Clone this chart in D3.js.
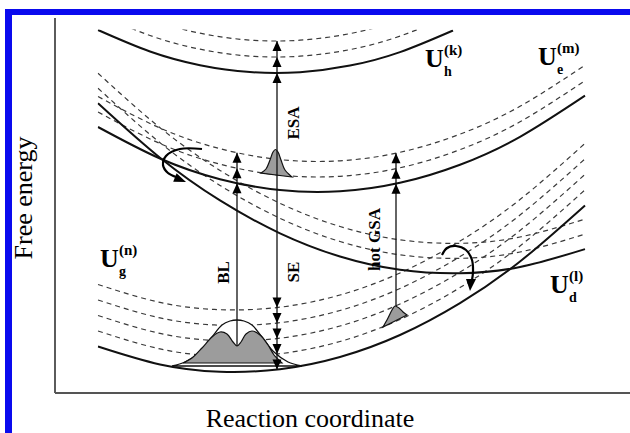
<!DOCTYPE html>
<html>
<head>
<meta charset="utf-8">
<script src="https://cdn.jsdelivr.net/npm/d3@7"></script>
<style>
  body { margin: 0; background: #fff; }
  svg { display: block; }
</style>
</head>
<body>
<svg id="chart" width="630" height="433"></svg>
<script>
//	potential curves, sampled along the reaction coordinate (q) as free energy (E)
var qGrid    = [43, 105, 165, 225, 285, 345, 405, 465, 530];
var groundE  = [46.5, 28.6, 21.3, 23.8, 36.0, 58.0, 89.9, 131.5, 187.6];
var excitedE = [266.0, 234.5, 213.8, 202.9, 201.7, 210.2, 228.3, 256.2, 297.4];
var darkE    = [289.8, 235.3, 192.6, 159.7, 136.5, 123.2, 119.7, 126.0, 143.9];
var qHigh    = [43, 95, 145, 195, 245, 295, 345, 398];
var highE    = [363, 341.5, 327.8, 320.9, 320.8, 327.4, 340.9, 362.5];

//	vibrational levels (energy above each curve), drawn dashed
var groundLevels  = [15.5, 31, 46.5, 62];
var excitedLevels = [15, 30.5];
var darkLevels    = [15, 30];
var highLevels    = [16, 32];

//	curve labels U_sub^(sup)
var curveSub = ["g", "e", "d", "h"];
var curveSup = ["(n)", "(m)", "(l)", "(k)"];
var labelQ   = [45, 483, 495, 370];
var labelE   = [126, 328, 100, 326];

//	populations (wavepackets)
var bellOutline = [[117,27],[130,31],[145,41],[157,56],[167,68],[175,72],[182,73],[189,72],[197,68],[207,56],[219,41],[233,31],[247,27]];
var groundPop   = [[128,30],[137,35],[147,45],[157,56],[165,61],[172,59],[178,51],[182,47],[186,51],[191,59],[197,62],[205,58],[213,48],[219,38],[224,33],[227,30]];
var excitedPop  = [[206,220],[211,224],[215,233],[218,241],[220.5,243.5],[223,241],[226,233],[230,223],[237,216]];
var hotPop      = [[328,66],[333,75],[337,83],[340,87],[344,85],[348,81],[352,78]];

//	vertical transitions
var arrowQ      = [222, 182, 341];
var arrowTop    = [352, 240.3, 239.8];
var arrowBottom = [23.4, 47, 87];
var upTips      = [[320, 336, 352], [209.8, 224.8, 240.3], [209.3, 224.3, 239.8]];
var downTips    = [[23.4, 38.9, 54.4, 69.9, 85.4], [], []];
var arrowLabels = ["ESA", "SE", "BL", "hot GSA"];
var arrowLabelQ = [244, 244, 174, 325];
var arrowLabelE = [270, 121, 120.5, 153.5];

//	curved arrows (relaxation / crossing)
var crossArrowL = [[147,244],[125,244],[111,237],[108,228],[113,220],[121,216]];
var crossArrowR = [[387,138],[392,145],[401,147],[411,143],[417,133],[418,121],[417,113]];

var svg = d3.select("#chart"),
    width = 630,
    height = 433,
    serif = "'Liberation Serif', 'Times New Roman', serif";

var x = d3.scaleLinear().domain([0, 575]).range([55, 630]),
    y = d3.scaleLinear().domain([0, 376]).range([393, 17]);

var line = d3.line()
    .x(function(d) { return x(d[0]); })
    .y(function(d) { return y(d[1]); })
    .curve(d3.curveNatural);

var closedLine = d3.line()
    .x(function(d) { return x(d[0]); })
    .y(function(d) { return y(d[1]); })
    .curve(d3.curveCatmullRom);

function pairs(qs, es, shift) {
	return qs.map(function(q, i) { return [q, es[i] + (shift || 0)]; });
}

//	levels stop at the top and at the ends of the sketch
svg.append("clipPath").attr("id", "plot").append("rect")
	.attr("x", x(42.5)).attr("y", y(363.5))
	.attr("width", x(531) - x(42.5)).attr("height", y(0) - y(363.5));

var curveQ = [qGrid, qGrid, qGrid, qHigh],
    curveE = [groundE, excitedE, darkE, highE],
    curveLevels = [groundLevels, excitedLevels, darkLevels, highLevels];

var g = svg.append("g").attr("clip-path", "url(#plot)");

// dashed levels
curveE.forEach(function(es, i) {
	curveLevels[i].forEach(function(off) {
		g.append("path")
			.attr("d", line(pairs(curveQ[i], es, off)))
			.attr("fill", "none")
			.attr("stroke", "#3a3a3a")
			.attr("stroke-width", 1.2)
			.attr("stroke-dasharray", "5,4");
	});
});

// solid curves
curveE.forEach(function(es, i) {
	g.append("path")
		.attr("d", line(pairs(curveQ[i], es)))
		.attr("fill", "none")
		.attr("stroke", "#111")
		.attr("stroke-width", 2);
});

// populations
svg.append("path").attr("d", closedLine(bellOutline) + "Z")
	.attr("fill", "#fff").attr("stroke", "#111").attr("stroke-width", 1.3);
[groundPop, excitedPop, hotPop].forEach(function(p) {
	svg.append("path").attr("d", closedLine(p) + "Z")
		.attr("fill", "#9c9c9c").attr("stroke", "#111").attr("stroke-width", 1.2);
});

// vertical transitions
arrowQ.forEach(function(q, i) {
	svg.append("line")
		.attr("x1", x(q)).attr("x2", x(q))
		.attr("y1", y(arrowTop[i])).attr("y2", y(arrowBottom[i]))
		.attr("stroke", "#111").attr("stroke-width", 1.3);
	upTips[i].forEach(function(e) {
		var px = x(q), py = y(e);
		svg.append("path")
			.attr("d", "M" + px + "," + py + "L" + (px - 4.5) + "," + (py + 10) + "L" + (px + 4.5) + "," + (py + 10) + "Z")
			.attr("fill", "#000");
	});
	downTips[i].forEach(function(e) {
		var px = x(q), py = y(e);
		svg.append("path")
			.attr("d", "M" + px + "," + py + "L" + (px - 4.5) + "," + (py - 10) + "L" + (px + 4.5) + "," + (py - 10) + "Z")
			.attr("fill", "#000");
	});
});

arrowLabels.forEach(function(t, i) {
	svg.append("text")
		.attr("transform", "translate(" + x(arrowLabelQ[i]) + "," + y(arrowLabelE[i]) + ") rotate(-90)")
		.attr("text-anchor", "middle")
		.attr("font-family", serif)
		.attr("font-weight", "bold")
		.attr("font-size", 17)
		.text(t);
});

// curved arrows
[crossArrowL, crossArrowR].forEach(function(p) {
	svg.append("path").attr("d", closedLine(p))
		.attr("fill", "none").attr("stroke", "#000").attr("stroke-width", 2.2);
});
svg.append("path")
	.attr("d", "M" + x(131) + "," + y(211) + "L" + x(118.2) + "," + y(211.3) + "L" + x(121.6) + "," + y(219.7) + "Z")
	.attr("fill", "#000");
svg.append("path")
	.attr("d", "M" + x(415) + "," + y(102) + "L" + x(411) + "," + y(114) + "L" + x(421) + "," + y(114) + "Z")
	.attr("fill", "#000");

// curve labels
curveSub.forEach(function(s, i) {
	var px = x(labelQ[i]), py = y(labelE[i]);
	var t = svg.append("g").attr("font-family", serif).attr("font-weight", "bold");
	t.append("text").attr("x", px).attr("y", py).attr("font-size", 26).text("U");
	t.append("text").attr("x", px + 19).attr("y", py - 12).attr("font-size", 15).text(curveSup[i]);
	t.append("text").attr("x", px + 19).attr("y", py + 9).attr("font-size", 14).text(s);
});

// axes
svg.append("line").attr("x1", x(0)).attr("x2", x(0)).attr("y1", y(375)).attr("y2", y(0))
	.attr("stroke", "#333").attr("stroke-width", 1.6);
svg.append("line").attr("x1", x(0)).attr("x2", x(575)).attr("y1", y(0)).attr("y2", y(0))
	.attr("stroke", "#555").attr("stroke-width", 2);

svg.append("text")
	.attr("transform", "translate(32," + y(195) + ") rotate(-90)")
	.attr("text-anchor", "middle")
	.attr("font-family", serif)
	.attr("font-size", 26)
	.text("Free energy");
svg.append("text")
	.attr("x", x(255)).attr("y", 427)
	.attr("text-anchor", "middle")
	.attr("font-family", serif)
	.attr("font-size", 26)
	.text("Reaction coordinate");

// blue frame
svg.append("rect").attr("x", 5).attr("y", 9).attr("width", width - 5).attr("height", 6).attr("fill", "#0a0aee");
svg.append("rect").attr("x", 5).attr("y", 9).attr("width", 7).attr("height", height - 9).attr("fill", "#0a0aee");
</script>
</body>
</html>
